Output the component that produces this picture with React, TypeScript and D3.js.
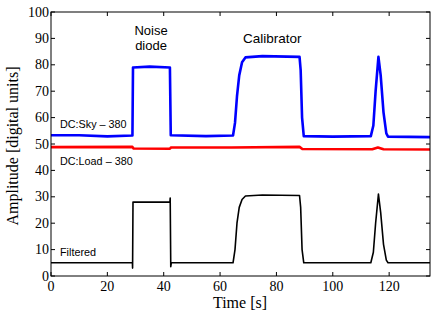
import * as d3 from "d3"

// keyframes: time [s] and amplitude
const skyTime = [0, 10, 20, 28.9, 29.1, 35, 42.2, 42.5, 55, 64.6, 65.3, 66, 66.8, 67.8, 69, 75, 88.2, 88.6, 89.1, 89.7, 100, 113.5, 114.4, 115.2, 116.2, 117, 118, 119, 119.6, 134.5]
const skyValue = [53.3, 53.3, 52.9, 53.2, 79, 79.3, 79, 53.3, 53, 53.2, 58, 68, 76, 81, 82.8, 83.3, 83, 78, 60, 53, 52.8, 53, 57, 70, 83, 76, 62, 54, 52.8, 52.6]

const loadTime = [0, 28.9, 29.3, 42.2, 42.6, 64, 88.2, 89.2, 114, 116, 118, 134.5]
const loadValue = [48.8, 48.9, 48.3, 48.2, 48.7, 48.7, 48.9, 48.1, 48.0, 48.7, 48.0, 47.9]

const filtTime = [0, 28.9, 28.95, 29.1, 42.2, 42.3, 42.5, 42.7, 64.6, 65.3, 66, 66.8, 67.8, 69, 75, 88.2, 88.6, 89.1, 89.7, 113.5, 114.4, 115.2, 116.2, 117, 118, 119, 119.6, 134.5]
const filtValue = [5, 5, 3, 28, 28, 29.5, 3.5, 5, 5, 10, 20, 26, 29, 30.3, 30.7, 30.5, 26, 10, 5, 5, 9, 20, 31, 24, 12, 6, 5, 5]

const xTicks = [0, 20, 40, 60, 80, 100, 120]
const yTicks = [0, 10, 20, 30, 40, 50, 60, 70, 80, 90, 100]

export default function App() {
  const width = 436
  const height = 315
  const margin = { top: 12, right: 6, bottom: 39, left: 51 }

  const x = d3.scaleLinear().domain([0, 134.5]).range([margin.left, width - margin.right])
  const y = d3.scaleLinear().domain([0, 100]).range([height - margin.bottom, margin.top])

  const line = d3
    .line<[number, number]>()
    .x((d) => x(d[0]))
    .y((d) => y(d[1]))

  const pts = (t: number[], v: number[]) => t.map((tt, i) => [tt, v[i]] as [number, number])

  const tick = 4
  const serif = "'Liberation Serif', 'Times New Roman', serif"
  const sans = "'Liberation Sans', Arial, sans-serif"
  const x0 = margin.left
  const x1 = width - margin.right
  const y0 = height - margin.bottom
  const y1 = margin.top

  return (
    <svg width={width} height={height} style={{ position: "absolute", left: 0, top: 0, background: "#fff" }}>
      <rect x={0} y={0} width={width} height={height} fill="#fff" />
      <defs>
        <clipPath id="plot">
          <rect x={x0} y={y1} width={x1 - x0} height={y0 - y1} />
        </clipPath>
      </defs>

      <g clipPath="url(#plot)" fill="none" strokeLinejoin="round">
        <path d={line(pts(loadTime, loadValue)) ?? ""} stroke="#ff0000" strokeWidth={2.6} />
        <path d={line(pts(skyTime, skyValue)) ?? ""} stroke="#0000ff" strokeWidth={2.6} />
        <path d={line(pts(filtTime, filtValue)) ?? ""} stroke="#000" strokeWidth={1.6} />
      </g>

      <rect x={x0} y={y1} width={x1 - x0} height={y0 - y1} fill="none" stroke="#000" strokeWidth={1} />

      {xTicks.map((t) => (
        <g key={"x" + t}>
          <line x1={x(t)} x2={x(t)} y1={y0} y2={y0 - tick} stroke="#000" />
          <line x1={x(t)} x2={x(t)} y1={y1} y2={y1 + tick} stroke="#000" />
          <text x={x(t)} y={y0 + 15} textAnchor="middle" fontFamily={serif} fontSize={14}>
            {t}
          </text>
        </g>
      ))}
      {yTicks.map((t) => (
        <g key={"y" + t}>
          <line x1={x0} x2={x0 + tick} y1={y(t)} y2={y(t)} stroke="#000" />
          <line x1={x1} x2={x1 - tick} y1={y(t)} y2={y(t)} stroke="#000" />
          <text x={x0 - 2} y={y(t) + 4.5} textAnchor="end" fontFamily={serif} fontSize={14}>
            {t}
          </text>
        </g>
      ))}

      <text x={240} y={308} textAnchor="middle" fontFamily={serif} fontSize={16}>
        Time [s]
      </text>
      <text transform={`translate(18,146) rotate(-90)`} textAnchor="middle" fontFamily={serif} fontSize={16}>
        Amplitude [digital units]
      </text>

      <text x={x(35.5)} y={35} textAnchor="middle" fontFamily={sans} fontSize={13}>
        Noise
      </text>
      <text x={x(35.5)} y={50} textAnchor="middle" fontFamily={sans} fontSize={13}>
        diode
      </text>
      <text x={x(78.5)} y={43} textAnchor="middle" fontFamily={sans} fontSize={13.5}>
        Calibrator
      </text>
      <text x={x(3.2)} y={y(56.2)} fontFamily={sans} fontSize={10.8}>
        DC:Sky – 380
      </text>
      <text x={x(3.2)} y={y(42)} fontFamily={sans} fontSize={10.8}>
        DC:Load – 380
      </text>
      <text x={x(3.2)} y={y(7.6)} fontFamily={sans} fontSize={10.8}>
        Filtered
      </text>
    </svg>
  )
}
